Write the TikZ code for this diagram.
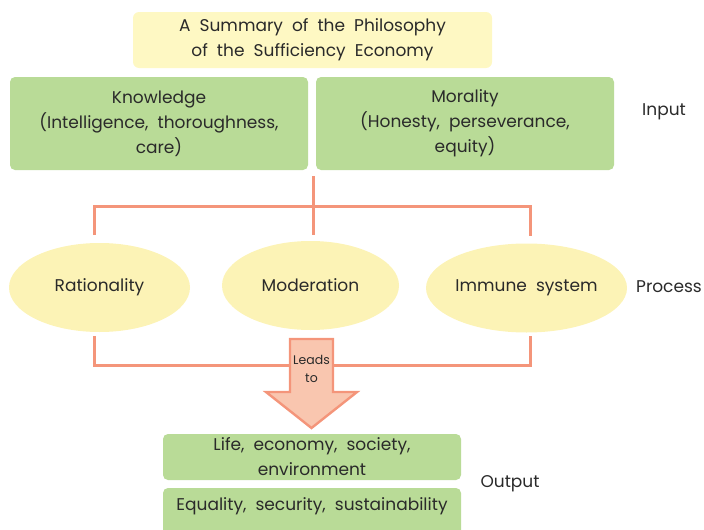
\documentclass[tikz,border=0pt]{standalone}
\usepackage{fontspec}
\setmainfont{Poppins}[WordSpace=2]
\usetikzlibrary{shapes.geometric}
\definecolor{titlefill}{HTML}{FEF8C3}
\definecolor{greenfill}{HTML}{B9DB97}
\definecolor{ellfill}{HTML}{FCF3B6}
\definecolor{linec}{HTML}{F4957A}
\definecolor{arrowfill}{HTML}{F9C6AF}
\definecolor{txt}{HTML}{2A2A2A}
\tikzset{
  every node/.style={text=txt, font=\fontsize{17}{25}\selectfont},
  titlebox/.style={fill=titlefill, rounded corners=6pt, inner sep=0pt, align=center},
  greenbox/.style={fill=greenfill, rounded corners=5pt, inner sep=0pt, align=center},
  ellbox/.style={ellipse, fill=ellfill, inner sep=0pt},
  conn/.style={draw=linec, line width=3pt},
  sidelabel/.style={font=\fontsize{17}{20}\selectfont},
}
\begin{document}
\begin{tikzpicture}[x=1pt, y=-1pt]
\useasboundingbox (0,0) rectangle (704,530);
% title
\node[titlebox, minimum width=359pt, minimum height=56pt] (title) at (312.5,40) {A Summary of the Philosophy\\of the Sufficiency Economy};
% input boxes
\node[greenbox, minimum width=298pt, minimum height=93pt] (know) at (159,123.5) {Knowledge\\(Intelligence, thoroughness,\\care)};
\node[greenbox, minimum width=298pt, minimum height=93pt] (moral) at (465,123.5) {Morality\\(Honesty, perseverance,\\equity)};
\node[sidelabel] (input) at (664,112) {Input};
% ellipses
\node[ellbox, minimum width=181pt, minimum height=89pt] (rat) at (99.5,287.5) {Rationality};
\node[ellbox, minimum width=177pt, minimum height=89pt] (mod) at (310.5,285.5) {Moderation};
\node[ellbox, minimum width=181pt, minimum height=89pt] (imm) at (526.5,288) {Immune system};
\node[sidelabel] (proc) at (669,287) {Process};
% top connector
\coordinate (tA) at (313,176);
\coordinate (tB) at (313,206);
\coordinate (tL) at (94,206);
\coordinate (tR) at (530,206);
\coordinate (tL2) at (94,235);
\coordinate (tM2) at (313,235);
\coordinate (tR2) at (530,236);
\draw[conn] (tA) -- (tB);
\draw[conn] (tL2) -- (tL) -- (tR) -- (tR2);
\draw[conn] (tB) -- (tM2);
% bottom connector
\coordinate (bL) at (94,336);
\coordinate (bL2) at (94,365);
\coordinate (bR2) at (530,365);
\coordinate (bR) at (530,336);
\draw[conn] (bL) -- (bL2) -- (bR2) -- (bR);
% big arrow
\draw[draw=linec, fill=arrowfill, line width=2.4pt, line join=miter]
  (290,339) -- (333,339) -- (333,392) -- (357,392) -- (311.5,428) -- (266,392) -- (290,392) -- cycle;
\node[font=\fontsize{12.5}{18}\selectfont, align=center] (leads) at (311.5,369) {Leads\\to};
% outputs
\node[greenbox, minimum width=298pt, minimum height=46pt] (out1) at (312,457) {Life, economy, society,\\environment};
\node[greenbox, minimum width=298pt, minimum height=50pt] (out2) at (312,513) {};
\node (out2t) at (312,506) {Equality, security, sustainability};
\node[sidelabel] (outp) at (510,484) {Output};
\end{tikzpicture}
\end{document}
